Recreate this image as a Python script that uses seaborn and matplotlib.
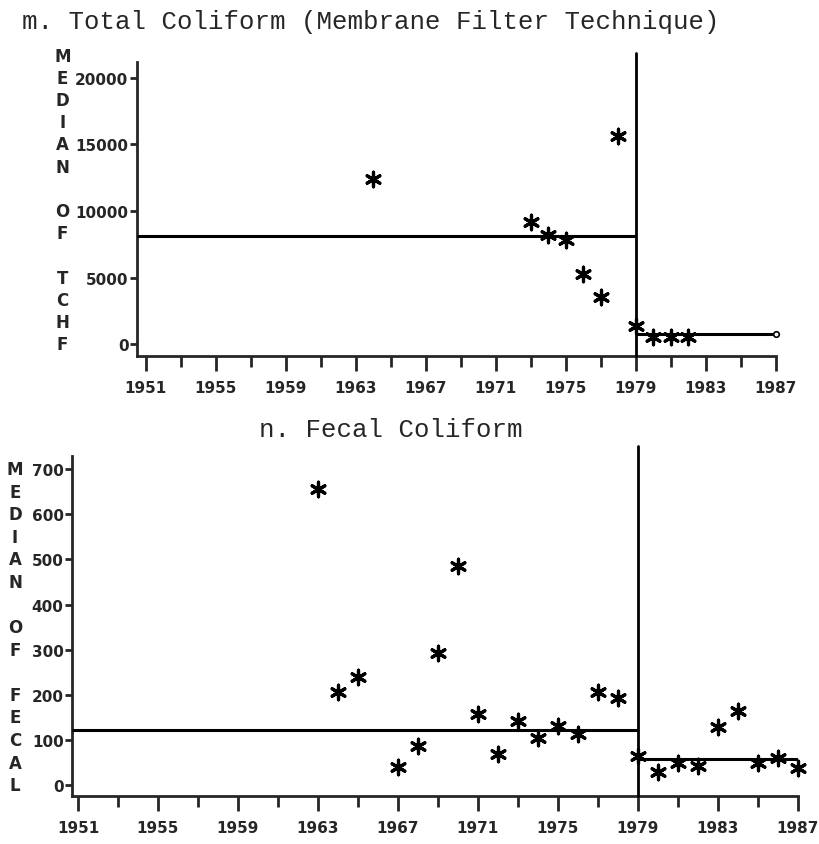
import matplotlib
matplotlib.use("Agg")
import matplotlib.pyplot as plt
import matplotlib.transforms as mtransforms
import pandas as pd
import seaborn as sns

# total coliform, membrane filter technique (median per year)
tc_years = [1964, 1973, 1974, 1975, 1976, 1977, 1978, 1979, 1980, 1981, 1982]
tc_median = [12400, 9200, 8200, 7800, 5300, 3500, 15600, 1350, 550, 550, 550]
tc_period_median = [8100, 750]

# fecal coliform (median per year)
fc_years = [1963, 1964, 1965, 1967, 1968, 1969, 1970, 1971, 1972, 1973, 1974, 1975,
            1976, 1977, 1978, 1979, 1980, 1981, 1982, 1983, 1984, 1985, 1986, 1987]
fc_median = [655, 207, 240, 41, 86, 293, 485, 158, 68, 143, 105, 132,
             113, 207, 192, 64, 30, 49, 43, 128, 165, 50, 60, 38]
fc_period_median = [122, 58]

period_bounds = [1951, 1979, 1987]  # break at 1979
year_ticks = list(range(1951, 1988, 4))
year_minor = list(range(1953, 1988, 4))

tc_yticks = [0, 5000, 10000, 15000, 20000]
fc_yticks = [0, 100, 200, 300, 400, 500, 600, 700]

tc_letters = "MEDIAN OF TCHF"
fc_letters = "MEDIAN OF FECAL"

sns.set_style("ticks")
plt.rcParams["font.family"] = ["DejaVu Sans"]

fig = plt.figure(figsize=(8.19, 8.45), dpi=100)
ax1 = fig.add_axes([0.167, 0.5775, 0.780, 0.348])
ax2 = fig.add_axes([0.0879, 0.0568, 0.886, 0.4024])

star = (6, 2, 0)
tick_font = dict(fontweight="bold", fontsize=11)


def draw_panel(ax, years, values, period_med, yticks, letters, xlim, ylim, letter_x, row_step, top_row):
    df = pd.DataFrame({"year": years, "median": values})
    sns.scatterplot(data=df, x="year", y="median", ax=ax, marker=star, s=110,
                    color="black", edgecolor="black", linewidth=2.3, clip_on=False, zorder=4)

    # first period line starts right at the y axis, like the original printout
    starts = [xlim[0]] + period_bounds[1:-1]
    ax.hlines(period_med, starts, period_bounds[1:], color="black", lw=2.2, zorder=3)
    ax.axvline(period_bounds[1], ymin=0, ymax=1.03, color="black", lw=2, clip_on=False, zorder=3)

    ax.set_xlim(*xlim)
    ax.set_ylim(*ylim)
    ax.set_xticks(year_ticks)
    ax.set_xticks(year_minor, minor=True)
    ax.set_yticks(yticks)
    ax.set_xticklabels([str(y) for y in year_ticks], **tick_font)
    ax.set_yticklabels([str(v) for v in yticks], **tick_font)
    ax.tick_params(axis="x", which="major", length=11, width=2, pad=6)
    ax.tick_params(axis="x", which="minor", length=8, width=2)
    ax.tick_params(axis="y", length=5, width=2, pad=1)
    ax.set_xlabel("")
    ax.set_ylabel("")
    sns.despine(ax=ax)
    ax.spines["left"].set_linewidth(2)
    ax.spines["bottom"].set_linewidth(2)

    # stacked letter label, one letter per row aligned with the tick rows
    trans = mtransforms.blended_transform_factory(ax.transAxes, ax.transData)
    for i, ch in enumerate(letters):
        if ch == " ":
            continue
        ax.text(letter_x, top_row - i * row_step, ch, transform=trans, ha="center", va="center",
                fontsize=12, fontweight="bold", clip_on=False)


draw_panel(ax1, tc_years, tc_median, tc_period_median, tc_yticks, tc_letters,
           (1950.5, 1987), (-900, 21200), -0.116, 5000 / 3, 20000 + 5000 / 3)
ax1.plot([period_bounds[-1]], [tc_period_median[-1]], marker="o", ms=4, mfc="white",
         mec="black", mew=1.2, clip_on=False, zorder=5)

draw_panel(ax2, fc_years, fc_median, fc_period_median, fc_yticks, fc_letters,
           (1950.7, 1987), (-24, 729), -0.0785, 50, 700)

fig.text(22 / 819, 1 - 22 / 845, "m. Total Coliform (Membrane Filter Technique)",
         family="Liberation Mono", fontsize=18.5, ha="left", va="center")
fig.text(391 / 819, 1 - 430 / 845, "n. Fecal Coliform",
         family="Liberation Mono", fontsize=18.5, ha="center", va="center")

fig.savefig("out.png", dpi=100)
